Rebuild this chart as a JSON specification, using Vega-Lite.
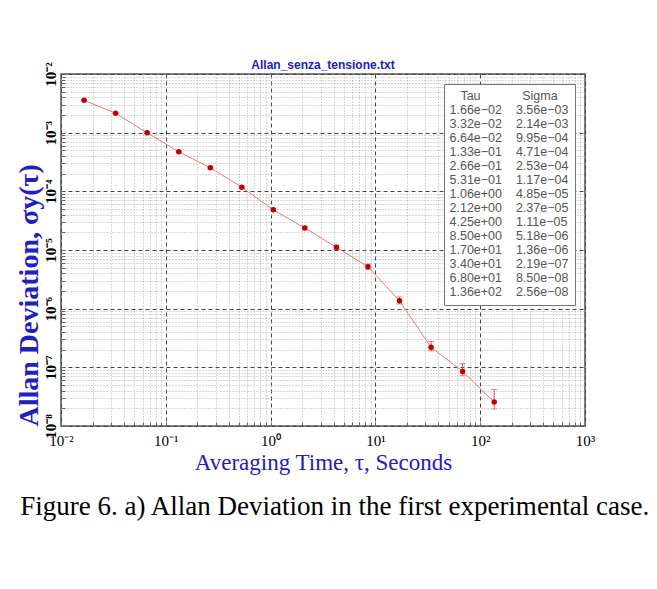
{
  "$schema": "https://vega.github.io/schema/vega-lite/v6.json",
  "padding": {"left": 14, "top": 58, "right": 5, "bottom": 5},
  "background": "white",
  "title": {
    "text": "Figure 6. a) Allan Deviation in the first experimental case.",
    "orient": "bottom",
    "anchor": "start",
    "frame": "bounds",
    "dx": 6,
    "offset": 19,
    "font": "Liberation Serif",
    "fontSize": 27,
    "fontWeight": "normal",
    "color": "#000000"
  },
  "config": {
    "view": {"stroke": "#555555", "strokeWidth": 1.5},
    "axis": {"labelOverlap": false, "labelFlush": false}
  },
  "vconcat": [
    {
      "width": 524,
      "height": 352,
      "title": {
        "text": "Allan_senza_tensione.txt",
        "font": "Liberation Sans",
        "fontSize": 12,
        "fontWeight": "bold",
        "color": "#1a1ac8",
        "offset": -10,
        "frame": "group",
        "anchor": "middle"
      },
      "data": {
        "values": [
          {"tau": 0.0166, "sigma": 3.56e-3, "lo": 3.52e-3, "hi": 3.60e-3, "label": "1.66e\u221202\u00a0\u00a0\u00a0\u00a03.56e\u221203"},
          {"tau": 0.0332, "sigma": 2.14e-3, "lo": 2.10e-3, "hi": 2.18e-3, "label": "3.32e\u221202\u00a0\u00a0\u00a0\u00a02.14e\u221203"},
          {"tau": 0.0664, "sigma": 9.95e-4, "lo": 9.70e-4, "hi": 1.02e-3, "label": "6.64e\u221202\u00a0\u00a0\u00a0\u00a09.95e\u221204"},
          {"tau": 0.133, "sigma": 4.71e-4, "lo": 4.58e-4, "hi": 4.85e-4, "label": "1.33e\u221201\u00a0\u00a0\u00a0\u00a04.71e\u221204"},
          {"tau": 0.266, "sigma": 2.53e-4, "lo": 2.44e-4, "hi": 2.62e-4, "label": "2.66e\u221201\u00a0\u00a0\u00a0\u00a02.53e\u221204"},
          {"tau": 0.531, "sigma": 1.17e-4, "lo": 1.12e-4, "hi": 1.22e-4, "label": "5.31e\u221201\u00a0\u00a0\u00a0\u00a01.17e\u221204"},
          {"tau": 1.06, "sigma": 4.85e-5, "lo": 4.60e-5, "hi": 5.12e-5, "label": "1.06e+00\u00a0\u00a0\u00a0\u00a04.85e\u221205"},
          {"tau": 2.12, "sigma": 2.37e-5, "lo": 2.22e-5, "hi": 2.54e-5, "label": "2.12e+00\u00a0\u00a0\u00a0\u00a02.37e\u221205"},
          {"tau": 4.25, "sigma": 1.11e-5, "lo": 1.02e-5, "hi": 1.21e-5, "label": "4.25e+00\u00a0\u00a0\u00a0\u00a01.11e\u221205"},
          {"tau": 8.50, "sigma": 5.18e-6, "lo": 4.70e-6, "hi": 5.75e-6, "label": "8.50e+00\u00a0\u00a0\u00a0\u00a05.18e\u221206"},
          {"tau": 17.0, "sigma": 1.36e-6, "lo": 1.20e-6, "hi": 1.58e-6, "label": "1.70e+01\u00a0\u00a0\u00a0\u00a01.36e\u221206"},
          {"tau": 34.0, "sigma": 2.19e-7, "lo": 1.92e-7, "hi": 2.75e-7, "label": "3.40e+01\u00a0\u00a0\u00a0\u00a02.19e\u221207"},
          {"tau": 68.0, "sigma": 8.50e-8, "lo": 7.20e-8, "hi": 1.15e-7, "label": "6.80e+01\u00a0\u00a0\u00a0\u00a08.50e\u221208"},
          {"tau": 136, "sigma": 2.56e-8, "lo": 1.95e-8, "hi": 4.20e-8, "label": "1.36e+02\u00a0\u00a0\u00a0\u00a02.56e\u221208"}
        ]
      },
      "encoding": {
        "x": {
          "field": "tau",
          "type": "quantitative",
          "scale": {"type": "log", "domain": [0.01, 1000], "nice": false},
          "axis": {
            "title": "Averaging Time, \u03c4, Seconds",
            "titleFont": "Liberation Serif",
            "titleFontSize": 23,
            "titleFontWeight": "normal",
            "titleColor": "#2020c0",
            "titlePadding": 3,
            "labelFont": "Liberation Serif",
            "labelFontSize": 15,
            "labelColor": "#000000",
            "labelPadding": 11,
            "values": [0.01,0.02,0.03,0.04,0.05,0.06,0.07,0.08,0.09,0.1,0.2,0.3,0.4,0.5,0.6,0.7,0.8,0.9,1,2,3,4,5,6,7,8,9,10,20,30,40,50,60,70,80,90,100,200,300,400,500,600,700,800,900,1000],
            "labelExpr": "abs(log(datum.value)/LN10 - round(log(datum.value)/LN10)) < 1e-6 ? '10' + ['\u207b\u00b2','\u207b\u00b9','\u2070','\u00b9','\u00b2','\u00b3'][round(log(datum.value)/LN10)+2] : ''",
            "domain": false,
            "tickSize": -4,
            "tickColor": "#666666",
            "grid": true,
            "gridColor": {"condition": {"test": "abs(log(datum.value)/LN10 - round(log(datum.value)/LN10)) < 1e-6", "value": "#444444"}, "value": "#b0b0b0"},
            "gridDash": {"condition": {"test": "abs(log(datum.value)/LN10 - round(log(datum.value)/LN10)) < 1e-6", "value": [4, 3]}, "value": [1, 2]},
            "gridWidth": 1
          }
        },
        "y": {
          "field": "sigma",
          "type": "quantitative",
          "scale": {"type": "log", "domain": [1e-8, 1e-2], "nice": false},
          "axis": {
            "title": "Allan Deviation, \u03c3y(\u03c4)",
            "titleFont": "Liberation Serif",
            "titleFontSize": 28,
            "titleFontWeight": "bold",
            "titleColor": "#2020c0",
            "titleAnchor": "start",
            "titlePadding": 0,
            "labelFont": "Liberation Serif",
            "labelFontSize": 15,
            "labelFontWeight": "bold",
            "labelColor": "#000000",
            "labelAngle": -90,
            "labelAlign": "center",
            "labelBaseline": "bottom",
            "labelPadding": 7,
            "values": [1e-8,2e-8,3e-8,4e-8,5e-8,6e-8,7e-8,8e-8,9e-8,1e-7,2e-7,3e-7,4e-7,5e-7,6e-7,7e-7,8e-7,9e-7,1e-6,2e-6,3e-6,4e-6,5e-6,6e-6,7e-6,8e-6,9e-6,1e-5,2e-5,3e-5,4e-5,5e-5,6e-5,7e-5,8e-5,9e-5,1e-4,2e-4,3e-4,4e-4,5e-4,6e-4,7e-4,8e-4,9e-4,1e-3,2e-3,3e-3,4e-3,5e-3,6e-3,7e-3,8e-3,9e-3,1e-2],
            "labelExpr": "abs(log(datum.value)/LN10 - round(log(datum.value)/LN10)) < 1e-6 ? '10' + ['\u207b\u2078','\u207b\u2077','\u207b\u2076','\u207b\u2075','\u207b\u2074','\u207b\u00b3','\u207b\u00b2'][round(log(datum.value)/LN10)+8] : ''",
            "domain": false,
            "tickSize": -4,
            "tickColor": "#666666",
            "grid": true,
            "gridColor": {"condition": {"test": "abs(log(datum.value)/LN10 - round(log(datum.value)/LN10)) < 1e-6", "value": "#444444"}, "value": "#b0b0b0"},
            "gridDash": {"condition": {"test": "abs(log(datum.value)/LN10 - round(log(datum.value)/LN10)) < 1e-6", "value": [4, 3]}, "value": [1, 2]},
            "gridWidth": 1
          }
        }
      },
      "layer": [
        {
          "mark": {"type": "line", "color": "#e87878", "strokeWidth": 1}
        },
        {
          "mark": {"type": "errorbar", "color": "#e05050", "ticks": {"size": 6}},
          "encoding": {
            "y": {"field": "lo", "type": "quantitative"},
            "y2": {"field": "hi"}
          }
        },
        {
          "mark": {"type": "point", "filled": true, "color": "#c00000", "opacity": 1, "size": 30},
          "encoding": {
            "shape": {
              "field": "label",
              "type": "nominal",
              "scale": {
                "domain": [
                  "1.66e\u221202\u00a0\u00a0\u00a0\u00a03.56e\u221203",
                  "3.32e\u221202\u00a0\u00a0\u00a0\u00a02.14e\u221203",
                  "6.64e\u221202\u00a0\u00a0\u00a0\u00a09.95e\u221204",
                  "1.33e\u221201\u00a0\u00a0\u00a0\u00a04.71e\u221204",
                  "2.66e\u221201\u00a0\u00a0\u00a0\u00a02.53e\u221204",
                  "5.31e\u221201\u00a0\u00a0\u00a0\u00a01.17e\u221204",
                  "1.06e+00\u00a0\u00a0\u00a0\u00a04.85e\u221205",
                  "2.12e+00\u00a0\u00a0\u00a0\u00a02.37e\u221205",
                  "4.25e+00\u00a0\u00a0\u00a0\u00a01.11e\u221205",
                  "8.50e+00\u00a0\u00a0\u00a0\u00a05.18e\u221206",
                  "1.70e+01\u00a0\u00a0\u00a0\u00a01.36e\u221206",
                  "3.40e+01\u00a0\u00a0\u00a0\u00a02.19e\u221207",
                  "6.80e+01\u00a0\u00a0\u00a0\u00a08.50e\u221208",
                  "1.36e+02\u00a0\u00a0\u00a0\u00a02.56e\u221208"
                ],
                "range": ["circle","circle","circle","circle","circle","circle","circle","circle","circle","circle","circle","circle","circle","circle"]
              },
              "legend": {
                "orient": "top-right",
                "offset": 10,
                "title": "Tau\u00a0\u00a0\u00a0\u00a0\u00a0\u00a0\u00a0\u00a0\u00a0\u00a0\u00a0\u00a0Sigma",
                "titleAnchor": "middle",
                "titleFont": "Liberation Sans",
                "titleFontSize": 12.5,
                "titleFontWeight": "normal",
                "titleColor": "#555555",
                "titlePadding": 1,
                "labelFont": "Liberation Sans",
                "labelFontSize": 12.5,
                "labelColor": "#555555",
                "labelOffset": -13,
                "labelLimit": 300,
                "symbolSize": 0,
                "symbolOpacity": 0,
                "symbolStrokeWidth": 0,
                "rowPadding": 1,
                "padding": 6,
                "strokeColor": "#777777",
                "fillColor": "#ffffff",
                "cornerRadius": 0
              }
            }
          }
        }
      ]
    }
  ]
}
